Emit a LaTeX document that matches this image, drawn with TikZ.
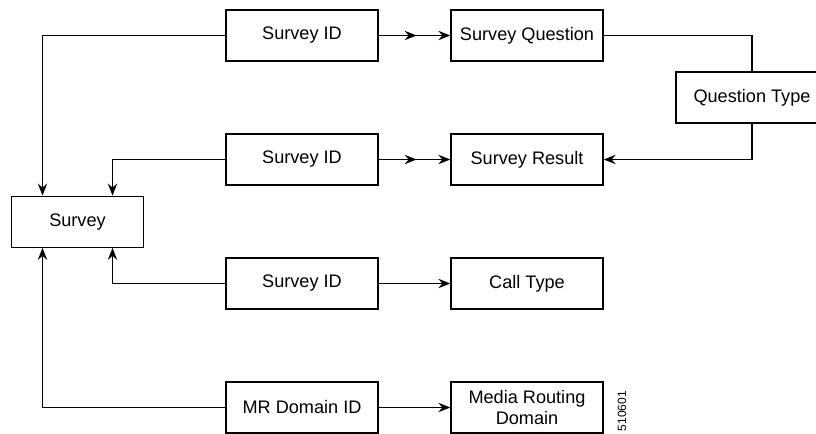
\documentclass[tikz,border=0pt]{standalone}
\usepackage{fontspec}
\setmainfont{Liberation Sans}
\usetikzlibrary{arrows.meta,decorations.markings}
\begin{document}
\begin{tikzpicture}[x=0.75pt,y=-0.75pt,
  box/.style={draw, line width=0.95pt, rectangle, minimum width=114pt, minimum height=38.25pt, inner sep=0pt, font=\fontsize{13.6pt}{16pt}\selectfont, align=center},
  conn/.style={line width=0.9pt},
  arr/.style={conn, -{Stealth[length=9pt,width=7pt,inset=3pt]}},
  midarr/.style={arr, postaction={decorate}, decoration={markings, mark=at position 0.53 with {\arrow{Stealth[length=9pt,width=7pt,inset=3pt]}}}}
]
\clip (0,0) rectangle (816,434);
\fill[white] (0,0) rectangle (816,434);
\node[box] (sid1) at (302,35.5) {Survey ID};
\node[box] (sq) at (527,35.5) {Survey Question};
\node[box] (qt) at (752,97.5) {Question Type};
\node[box] (sid2) at (302,159.5) {Survey ID};
\node[box] (sr) at (527,159.5) {Survey Result};
\node[box, minimum width=99pt] (sv) at (77.5,221.7) {Survey};
\node[box] (sid3) at (302,283.5) {Survey ID};
\node[box] (ct) at (527,283.5) {Call Type};
\node[box] (mr) at (302,407.5) {MR Domain ID};
\node[box] (mrd) at (527,407.5) {Media Routing\\Domain};
\node[rotate=90, font=\fontsize{9pt}{10pt}\selectfont] (num) at (622,411) {510601};

\coordinate (a) at (42.5,0);
\coordinate (b) at (112.5,0);
\draw[arr] (sid1.west) -| (sv.north -| a);
\draw[arr] (sid2.west) -| (sv.north -| b);
\draw[arr] (sid3.west) -| (sv.south -| b);
\draw[arr] (mr.west) -| (sv.south -| a);
\draw[midarr] (sid1.east) -- (sq.west);
\draw[midarr] (sid2.east) -- (sr.west);
\draw[arr] (sid3.east) -- (ct.west);
\draw[arr] (mr.east) -- (mrd.west);
\draw[conn] (sq.east) -| (qt.north);
\draw[arr] (qt.south) |- (sr.east);
\end{tikzpicture}
\end{document}
